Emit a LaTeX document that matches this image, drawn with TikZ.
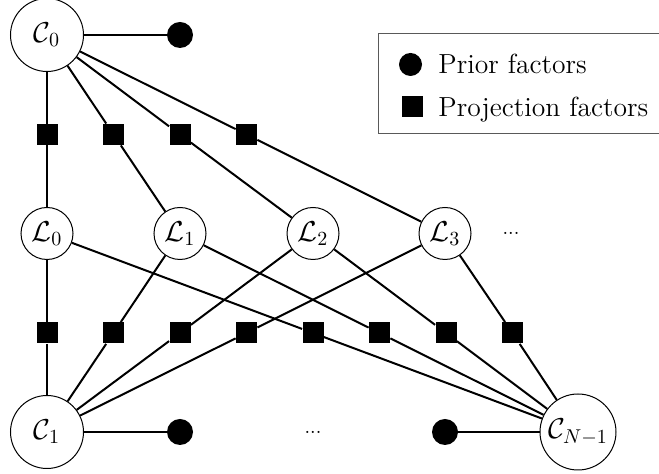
\documentclass[tikz,border=0pt]{standalone}
\begin{document}
\begin{tikzpicture}[x=0.5pt,y=0.5pt,font=\fontsize{13.8}{16}\selectfont,
    cam/.style={circle,draw,line width=0.5pt,fill=white,inner sep=0pt,minimum size=36.5pt},
    lmk/.style={circle,draw,line width=0.5pt,fill=white,inner sep=0pt,minimum size=26pt},
    prior/.style={circle,fill=black,inner sep=0pt,minimum size=13pt},
    proj/.style={rectangle,fill=black,inner sep=0pt,minimum size=10.5pt},
    edge/.style={line width=1pt}]
    \clip (0,0) rectangle (659,-474);

    % Kameras und Prior-Faktoren
    \node[cam] (c0) at (47,-35) {$\mathcal{C}_0$};
    \node[prior] (p0) at (180,-35) {};
    \node[cam] (c1) at (47,-432) {$\mathcal{C}_1$};
    \node[prior] (p1) at (180,-432) {};
    \node[font=\fontsize{10}{12}\selectfont] (cdots) at (313,-432) {...};
    \node[prior] (pN) at (445,-432) {};
    \node[cam,minimum size=38pt] (cN) at (578,-432) {$\mathcal{C}_{N-1}$};

    % Landmarks
    \foreach \i/\x in {0/47,1/180,2/313,3/445}
        \node[lmk] (l\i) at (\x,-233.5) {$\mathcal{L}_\i$};
    \node[font=\fontsize{10}{12}\selectfont] (ldots) at (511,-233) {...};

    % Projektionsfaktoren
    \foreach \i in {0,...,3}
        \node[proj] (qa\i) at (47+66.5*\i,-134.5) {};
    \foreach \i in {0,...,7}
        \node[proj] (qb\i) at (47+66.5*\i,-333) {};

    % Kanten
    \draw[edge] (c0) -- (p0);
    \draw[edge] (c1) -- (p1);
    \draw[edge] (pN) -- (cN);
    \foreach \i [evaluate=\i as \j using int(\i+4)] in {0,...,3} {
        \draw[edge] (c0) -- (qa\i) -- (l\i);
        \draw[edge] (l\i) -- (qb\i) -- (c1);
        \draw[edge] (l\i) -- (qb\j) -- (cN);
    }

    % Legende
    \draw[black!65,line width=0.5pt] (378,-34) rectangle (680,-134);
    \node[prior,minimum size=11.5pt] (lp) at (410.5,-64.5) {};
    \node[anchor=base west,inner sep=0pt] (lpt) at (438,-73.5) {Prior factors};
    \node[proj] (lq) at (412.5,-106.5) {};
    \node[anchor=base west,inner sep=0pt] (lqt) at (438,-116.5) {Projection factors};
\end{tikzpicture}
\end{document}
